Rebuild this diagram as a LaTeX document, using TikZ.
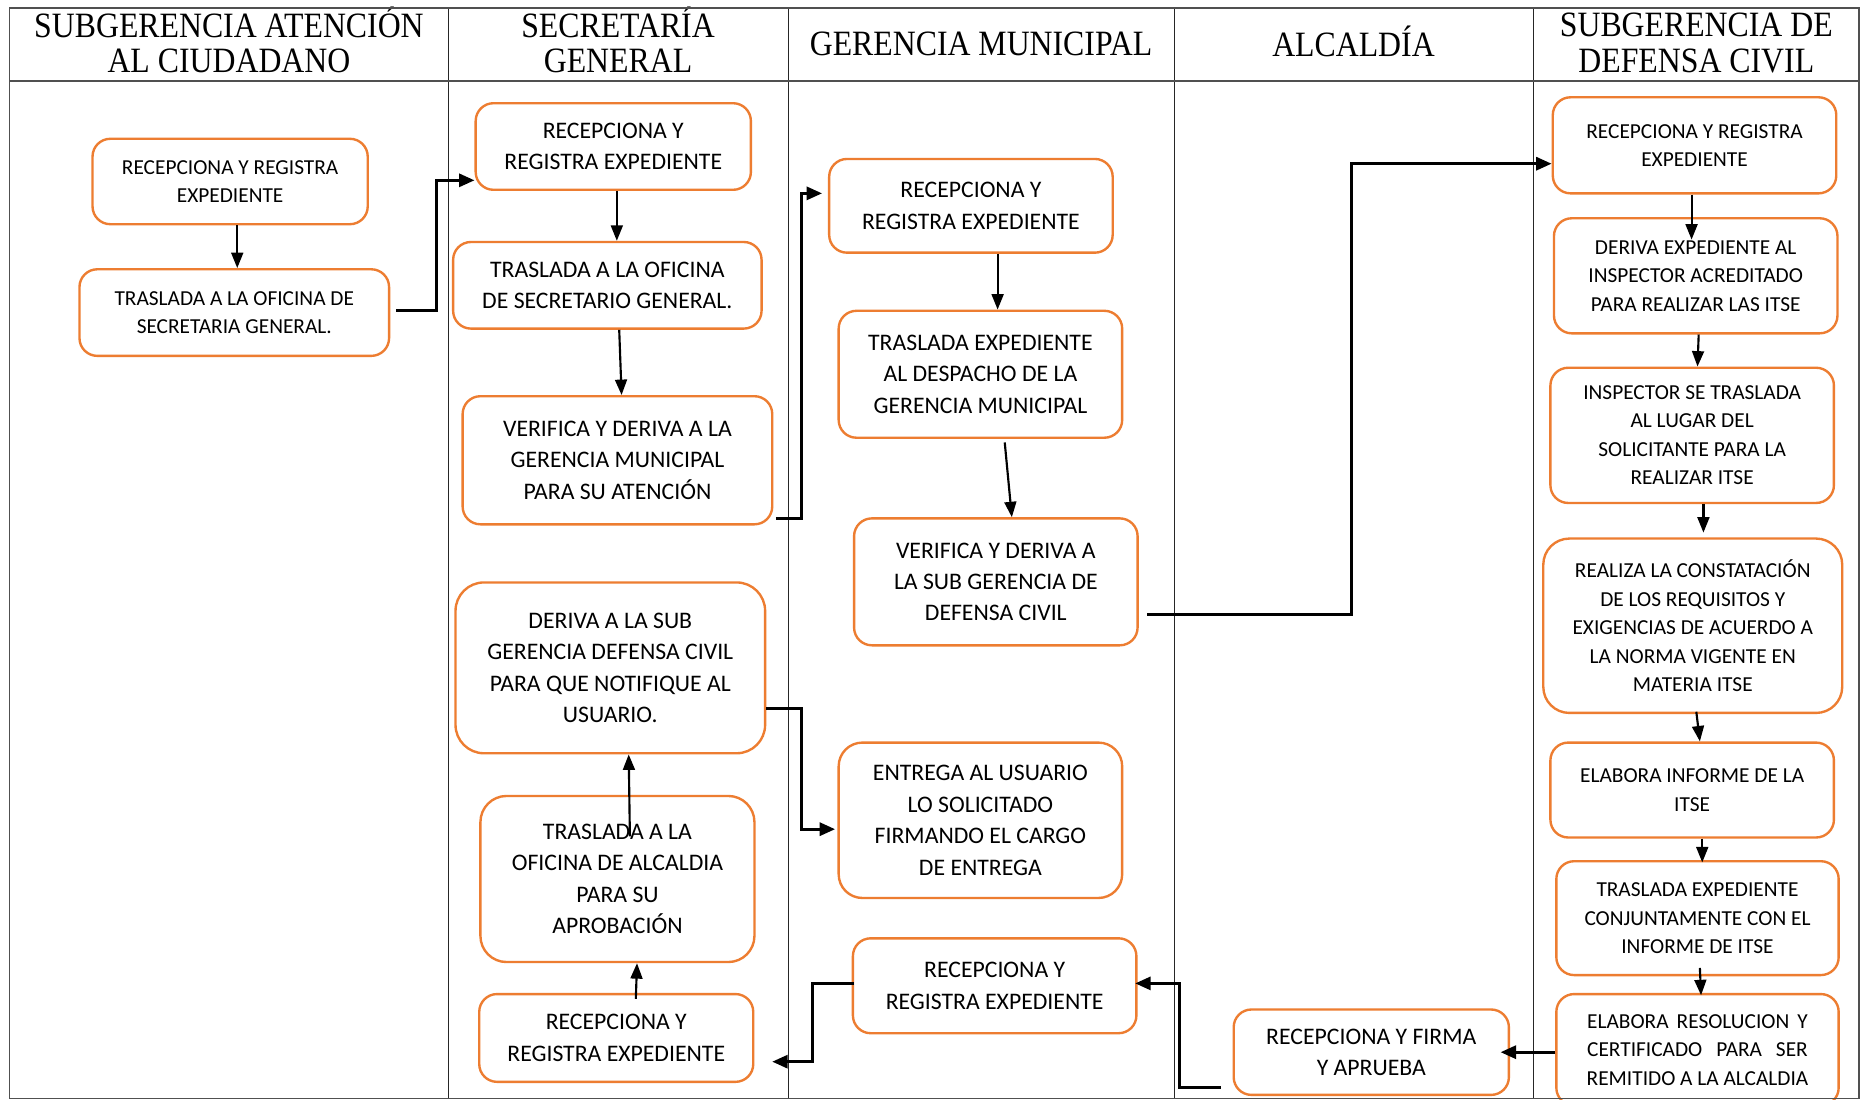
\documentclass[tikz,border=0pt]{standalone}
\usepackage{fontspec}
\usepackage{graphicx}
\setmainfont{Liberation Serif}
\newfontfamily\boxfont{Carlito}
\usetikzlibrary{arrows.meta}
\definecolor{boxorange}{HTML}{ED7D31}
\definecolor{rulegray}{HTML}{505050}
\newcommand\lanehead[1]{\scalebox{1}[1.12]{\begin{tabular}{@{}c@{}}#1\end{tabular}}}
\tikzset{
  stepbox/.style={draw=boxorange, line width=2pt, rounded corners=15pt, fill=white,
    align=center, inner sep=0pt, text=black},
  smalltxt/.style={font=\boxfont\fontsize{18}{24}\selectfont},
  bigtxt/.style={font=\boxfont\fontsize{20}{26.5}\selectfont},
  headtxt/.style={font=\fontsize{26.8}{26.8}\selectfont, inner sep=0pt},
  flow/.style={line width=1.8pt, -{Triangle[length=13pt,width=10pt]}},
  link/.style={line width=2.4pt, -{Triangle[length=13pt,width=11pt]}},
  lane/.style={line width=1pt, black!85},
}
\begin{document}
\begin{tikzpicture}[x=1pt, y=-1pt]
\useasboundingbox (0,0) rectangle (1568,927);
\fill[white] (0,0) rectangle (1568,927);

% lanes and header
\draw[lane] (378,7) -- (378,926);
\draw[lane] (665,7) -- (665,926);
\draw[lane] (990,7) -- (990,926);
\draw[lane] (1293,7) -- (1293,926);
\draw[rulegray, line width=1.6pt] (8,68) -- (1567,68);

\node[headtxt] (h1) at (193,38) {\lanehead{SUBGERENCIA ATENCIÓN\\AL CIUDADANO}};
\node[headtxt] (h2) at (521,38) {\lanehead{SECRETARÍA\\GENERAL}};
\node[headtxt] (h3) at (827,41) {\lanehead{GERENCIA MUNICIPAL}};
\node[headtxt] (h4) at (1141,39) {\lanehead{ALCALDÍA}};
\node[headtxt] (h5) at (1430,40) {\lanehead{SUBGERENCIA DE\\DEFENSA CIVIL}};

% Subgerencia de atencion al ciudadano
\node[stepbox, smalltxt, minimum width=232pt, minimum height=72pt] (A1) at (194,153)
  {RECEPCIONA Y REGISTRA\\EXPEDIENTE};
\node[stepbox, smalltxt, minimum width=261pt, minimum height=73pt] (A2) at (197.5,263.5)
  {TRASLADA A LA OFICINA DE\\SECRETARIA GENERAL.};

% Secretaria general
\node[stepbox, bigtxt, minimum width=232pt, minimum height=73pt] (B1) at (517,123.5)
  {RECEPCIONA Y\\REGISTRA EXPEDIENTE};
\node[stepbox, bigtxt, minimum width=260pt, minimum height=73pt] (B2) at (512,240.5)
  {TRASLADA A LA OFICINA\\DE SECRETARIO GENERAL.};
\node[stepbox, bigtxt, minimum width=261pt, minimum height=108pt] (B3) at (520.5,388)
  {VERIFICA Y DERIVA A LA\\GERENCIA MUNICIPAL\\PARA SU ATENCIÓN};
\node[stepbox, bigtxt, rounded corners=24pt, minimum width=261pt, minimum height=144pt] (B4) at (514.5,563)
  {DERIVA A LA SUB\\GERENCIA DEFENSA CIVIL\\PARA QUE NOTIFIQUE AL\\USUARIO.};
\node[stepbox, bigtxt, rounded corners=22pt, minimum width=231pt, minimum height=140pt] (B5) at (520.5,741)
  {TRASLADA A LA\\OFICINA DE ALCALDIA\\PARA SU\\APROBACIÓN};
\node[stepbox, bigtxt, minimum width=231pt, minimum height=74pt] (B6) at (519.5,875)
  {RECEPCIONA Y\\REGISTRA EXPEDIENTE};

% Gerencia municipal
\node[stepbox, bigtxt, minimum width=239pt, minimum height=79pt] (C1) at (818.5,173.5)
  {RECEPCIONA Y\\REGISTRA EXPEDIENTE};
\node[stepbox, bigtxt, minimum width=239pt, minimum height=107pt] (C2) at (826.5,315.5)
  {TRASLADA EXPEDIENTE\\AL DESPACHO DE LA\\GERENCIA MUNICIPAL};
\node[stepbox, bigtxt, minimum width=239pt, minimum height=107pt] (C3) at (839.5,490.5)
  {VERIFICA Y DERIVA A\\LA SUB GERENCIA DE\\DEFENSA CIVIL};
\node[stepbox, bigtxt, rounded corners=20pt, minimum width=239pt, minimum height=131pt] (C4) at (826.5,691.5)
  {ENTREGA AL USUARIO\\LO SOLICITADO\\FIRMANDO EL CARGO\\DE ENTREGA};
\node[stepbox, bigtxt, minimum width=239pt, minimum height=80pt] (C5) at (838.5,831)
  {RECEPCIONA Y\\REGISTRA EXPEDIENTE};

% Alcaldia
\node[stepbox, bigtxt, minimum width=232pt, minimum height=72pt] (D1) at (1156,887)
  {RECEPCIONA Y FIRMA\\Y APRUEBA};

% Subgerencia de defensa civil
\node[stepbox, smalltxt, minimum width=239pt, minimum height=81pt] (E1) at (1428.5,122.5)
  {RECEPCIONA Y REGISTRA\\EXPEDIENTE};
\node[stepbox, smalltxt, minimum width=239pt, minimum height=97pt] (E2) at (1429.5,232.5)
  {DERIVA EXPEDIENTE AL\\INSPECTOR ACREDITADO\\PARA REALIZAR LAS ITSE};
\node[stepbox, smalltxt, minimum width=239pt, minimum height=114pt] (E3) at (1426.5,367)
  {INSPECTOR SE TRASLADA\\AL LUGAR DEL\\SOLICITANTE PARA LA\\REALIZAR ITSE};
\node[stepbox, smalltxt, rounded corners=22pt, minimum width=252pt, minimum height=147pt] (E4) at (1427,527.5)
  {REALIZA LA CONSTATACIÓN\\DE LOS REQUISITOS Y\\EXIGENCIAS DE ACUERDO A\\LA NORMA VIGENTE EN\\MATERIA ITSE};
\node[stepbox, smalltxt, minimum width=239pt, minimum height=80pt] (E5) at (1426.5,666)
  {ELABORA INFORME DE LA\\ITSE};
\node[stepbox, smalltxt, minimum width=238pt, minimum height=96pt] (E6) at (1431,774)
  {TRASLADA EXPEDIENTE\\CONJUNTAMENTE CON EL\\INFORME DE ITSE};
\node[stepbox, smalltxt, minimum width=238pt, minimum height=94pt] (E7) at (1431,885)
  {\makebox[186pt][s]{ELABORA RESOLUCION Y}\\\makebox[186pt][s]{CERTIFICADO PARA SER}\\REMITIDO A LA ALCALDIA};

% outer frame
\draw[rulegray, line width=1.6pt] (8,7) rectangle (1567,926);

% flow inside the lanes
\draw[flow] ([xshift=6pt]A1.south) -- ([xshift=2.5pt]A2.north);
\draw[flow] ([xshift=3pt]B1.south) -- ([xshift=8pt]B2.north);
\draw[flow] ([xshift=10pt]B2.south) -- ([xshift=3.5pt]B3.north);
\draw[flow] ([xshift=22.5pt]C1.south) -- ([xshift=14.5pt]C2.north);
\draw[flow] ([xshift=20.5pt,yshift=-3pt]C2.south) -- ([xshift=13.5pt]C3.north);
\draw[flow] ([xshift=16.5pt,yshift=-5pt]B6.north) -- ([xshift=16.5pt]B5.south);
\coordinate (b5up) at (531,705);
\draw[flow] (b5up) -- ([xshift=15.5pt]B4.south);
\draw[flow, shorten >=-19pt] ([xshift=-2.5pt]E1.south) -- ([xshift=-3.5pt]E2.north);
\draw[flow] ([xshift=2.5pt]E2.south) -- ([xshift=4.5pt]E3.north);
\draw[flow] ([xshift=9.5pt]E3.south) -- ([xshift=9pt,yshift=4pt]E4.north);
\draw[flow] ([xshift=3pt,yshift=2pt]E4.south) -- ([xshift=6.5pt]E5.north);
\draw[flow] ([xshift=8.5pt]E5.south) -- ([xshift=4pt,yshift=-2pt]E6.north);
\draw[flow] ([xshift=2pt,yshift=7pt]E6.south) -- ([xshift=3pt,yshift=-2pt]E7.north);

% flow between lanes
\draw[link] ([xshift=5pt,yshift=1.5pt]A2.east) -- ++(34,0) |- ([yshift=-28.5pt]B1.west);
\draw[link, shorten >=5pt] ([xshift=2pt,yshift=-49pt]B3.east) -- ++(22,0) |- ([yshift=10.5pt]C1.west);
\draw[link] ([xshift=7pt,yshift=-27.5pt]C3.east) -- ++(172,0) |- ([yshift=-15.5pt]E1.west);
\draw[link, shorten >=2pt] ([yshift=-34pt]B4.east) -- ++(30,0) |- ([yshift=-7.5pt]C4.west);
\draw[link, shorten >=-8pt] (E7.west |- D1.east) -- (D1.east);
\draw[link, shorten >=-2pt] ([xshift=-10pt,yshift=-30pt]D1.west) -- ++(-35,0) |- ([yshift=2pt]C5.east);
\draw[link, shorten >=15pt] ([xshift=2pt,yshift=2pt]C5.west) -- ++(-35,0) |- ([yshift=-20pt]B6.east);
\end{tikzpicture}
\end{document}
